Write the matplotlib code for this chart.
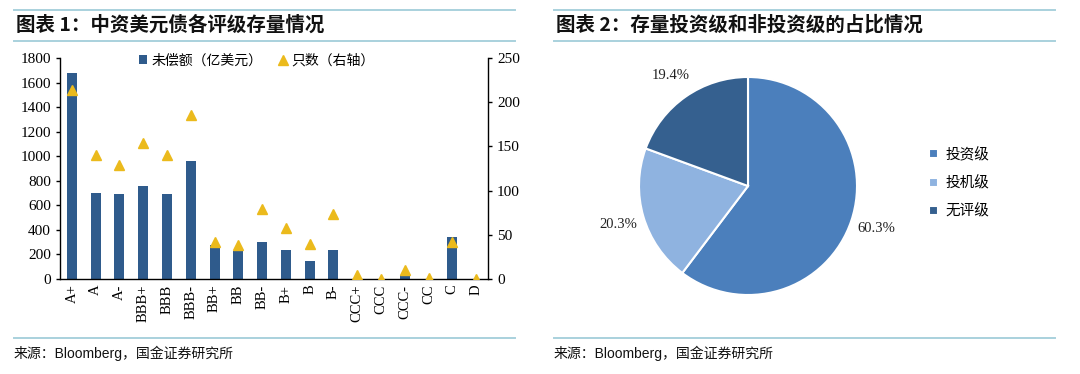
import matplotlib
matplotlib.use("Agg")
import matplotlib.pyplot as plt
from matplotlib.lines import Line2D

# rating categories and values
ratings = ['A+', 'A', 'A-', 'BBB+', 'BBB', 'BBB-', 'BB+', 'BB', 'BB-',
           'B+', 'B', 'B-', 'CCC+', 'CCC', 'CCC-', 'CC', 'C', 'D']
outstanding = [1680, 700, 690, 760, 695, 965, 275, 225, 300,
               235, 145, 240, 0, 0, 30, 0, 340, 0]
counts = [214, 140, 129, 154, 140, 186, 42, 38, 79,
          58, 40, 74, 4, 0, 10, 1.5, 42, 0]

pie_labels = ['投资级', '投机级', '无评级']
pie_values = [60.3, 20.3, 19.4]

CJK = 'Noto Sans CJK SC'
SERIF = 'Liberation Serif'
BAR_COLOR = '#2f5b8c'
TRI_COLOR = '#ebba1c'
RULE_COLOR = '#a9d1dd'
PIE_COLORS = ['#4b7fbc', '#8fb3e0', '#35608f']

plt.rcParams['font.family'] = [CJK, 'DejaVu Sans']

fig = plt.figure(figsize=(10.8, 3.74), dpi=100)
W, H = 1080, 374


def fx(px):
    return px / W


def fy(py):
    return 1 - py / H


# header / footer rules and titles for both panels
for x0, x1, title in [(14, 515, '图表 1：中资美元债各评级存量情况'),
                      (554, 1055, '图表 2：存量投资级和非投资级的占比情况')]:
    for y in (10, 41, 338):
        fig.add_artist(Line2D([fx(x0), fx(x1)], [fy(y), fy(y)],
                              transform=fig.transFigure, color=RULE_COLOR, lw=1.4))
    fig.text(fx(x0 + 2), fy(25), title, fontsize=14, fontweight='bold',
             family=[CJK], va='center', ha='left', color='#111111')
    fig.text(fx(x0), fy(353), '来源：Bloomberg，国金证券研究所', fontsize=10,
             family=['Liberation Sans', CJK], va='center', ha='left', color='#111111')

# ---- left chart: bars + triangles on twin axis ----
ax = fig.add_axes([fx(60), fy(279), fx(488) - fx(60), fy(58) - fy(279)])
x = list(range(len(ratings)))
bars = ax.bar(x, outstanding, width=0.42, color=BAR_COLOR, label='未偿额（亿美元）', zorder=2)
ax.set_xlim(-0.5, len(ratings) - 0.5)
ax.set_ylim(0, 1800)
ax.set_yticks(range(0, 1801, 200))
ax.set_xticks(x)
ax.set_xticklabels(ratings, rotation=90, family=SERIF, fontsize=10.5)
for lab in ax.get_yticklabels():
    lab.set_family(SERIF)
    lab.set_fontsize(11)
ax.tick_params(axis='x', length=0, pad=4)
ax.tick_params(axis='y', length=3, direction='out', width=1)
for s in ('top', 'right'):
    ax.spines[s].set_visible(False)
ax.spines['left'].set_linewidth(1)
ax.spines['bottom'].set_linewidth(1)

ax2 = ax.twinx()
tri, = ax2.plot(x, counts, linestyle='none', marker='^', markersize=7,
                color=TRI_COLOR, label='只数（右轴）', zorder=3)
ax2.set_ylim(0, 250)
ax2.set_yticks(range(0, 251, 50))
for lab in ax2.get_yticklabels():
    lab.set_family(SERIF)
    lab.set_fontsize(11)
ax2.tick_params(axis='y', length=3, direction='out', width=1)
for s in ('top', 'left', 'bottom'):
    ax2.spines[s].set_visible(False)
ax2.spines['right'].set_linewidth(1)

ax2.legend([bars, tri], ['未偿额（亿美元）', '只数（右轴）'], loc='center',
           bbox_to_anchor=(0.46, 0.99), ncol=2, frameon=False, fontsize=10,
           handlelength=0.6, handleheight=0.6, handletextpad=0.3, columnspacing=1.2)

# ---- right chart: pie ----
cx, cy, r = 748, 186, 109
axp = fig.add_axes([fx(cx - r), fy(cy + r), fx(2 * r), fy(cy - r) - fy(cy + r)])
wedges, _, autotexts = axp.pie(pie_values, colors=PIE_COLORS, startangle=90, counterclock=False,
                               wedgeprops=dict(edgecolor='white', linewidth=1.5),
                               autopct='%.1f%%', pctdistance=1.24,
                               textprops=dict(family=SERIF, fontsize=10.5, color='#222222'))
axp.set_xlim(-1, 1)
axp.set_ylim(-1, 1)
axp.set_aspect('equal')

fig.legend(wedges, pie_labels, loc='center left', bbox_to_anchor=(fx(922), fy(183)),
           bbox_transform=fig.transFigure, frameon=False, fontsize=10.5,
           handlelength=0.6, handleheight=0.6, handletextpad=0.5, labelspacing=0.95,
           borderpad=0)

fig.savefig('out.png', dpi=100)
